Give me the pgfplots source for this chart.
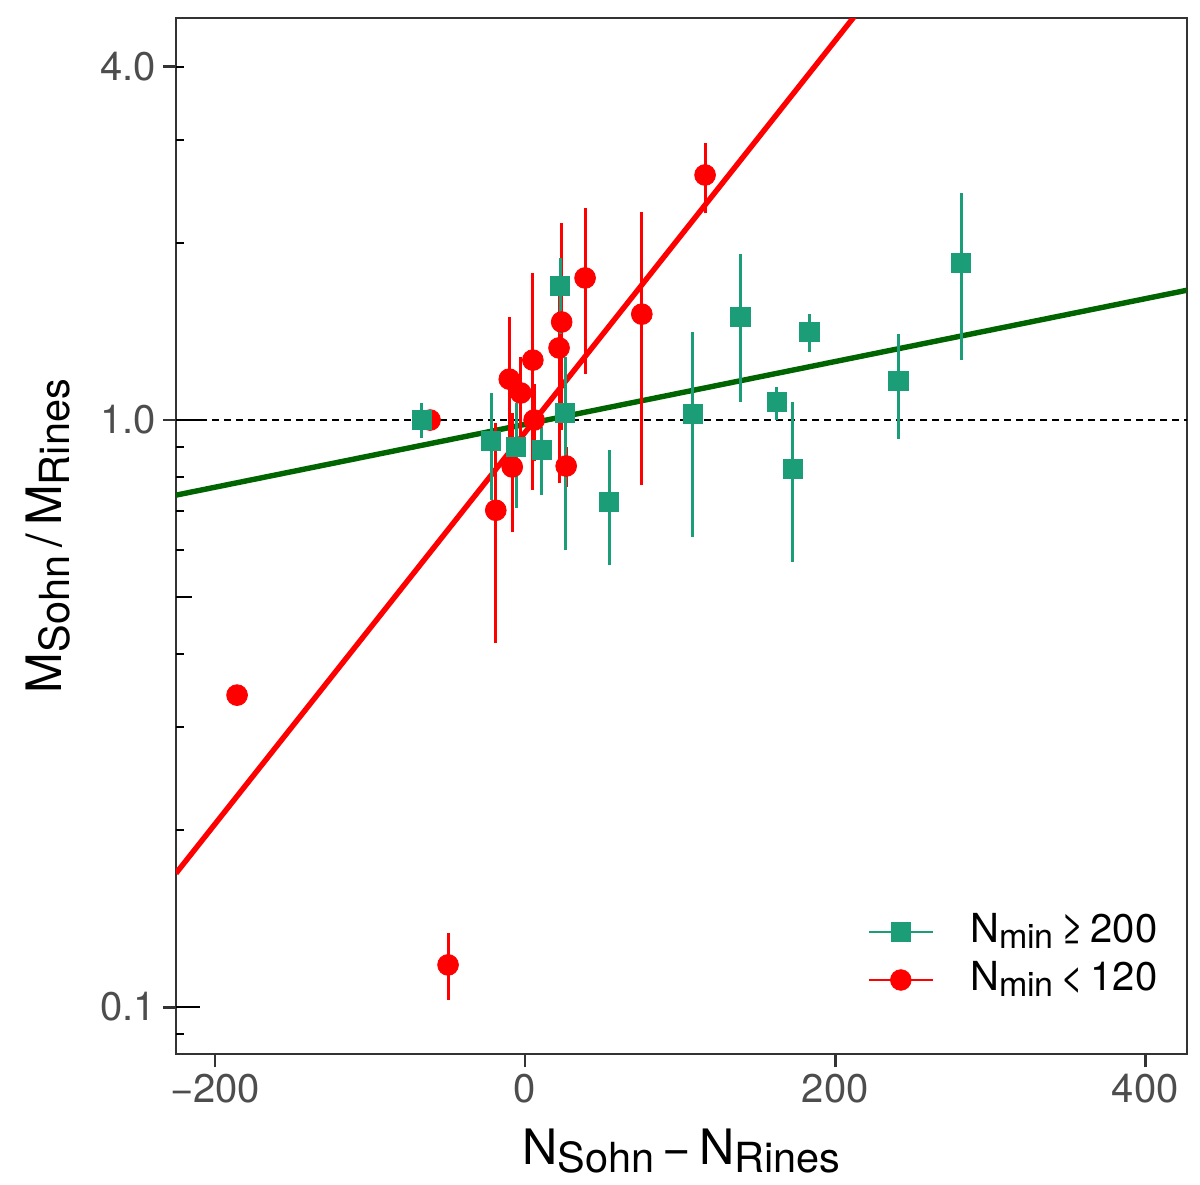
\documentclass[border=0pt]{standalone}
\usepackage{fontspec}
\setmainfont{TeX Gyre Heros}
\usepackage{graphicx}
\usepackage{pgfplots}
\pgfplotsset{compat=1.18}

\definecolor{dgreen}{HTML}{1B9E77}
\definecolor{fitgreen}{HTML}{006400}
\definecolor{axgray}{HTML}{333333}
\definecolor{labgray}{HTML}{4D4D4D}
\newcommand\sub[1]{\raisebox{-0.16em}{\scalebox{0.85}{#1}}}

\begin{document}
\begin{tikzpicture}
\begin{axis}[
  scale only axis, width=505.5pt, height=518pt,
  xmin=-225.2, xmax=427,
  ymode=log, ymin=0.0832, ymax=4.84,
  xtick={-200,0,200,400}, xticklabels={−200,0,200,400},
  ytick={0.1,1,4}, yticklabels={0.1,1.0,4.0},
  yminorticks=false, xminorticks=false,
  xtick pos=lower, ytick pos=left,
  tick align=outside, major tick length=6.5pt,
  tick style={axgray, line width=1.4pt},
  axis line style={axgray, line width=1pt},
  tick label style={labgray, font=\fontsize{20}{24}\selectfont},
  xlabel={N\sub{Sohn}\,−\,N\sub{Rines}},
  ylabel={M\sub{Sohn}\,/\,M\sub{Rines}},
  xlabel style={font=\fontsize{24.4}{29}\selectfont, at={(axis description cs:0.5,-0.107)}, anchor=base},
  ylabel style={font=\fontsize{24.4}{29}\selectfont, at={(axis description cs:-0.1128,0.5)}, anchor=base},
  legend image code/.code={
    \draw[mark repeat=2, mark phase=2, #1] plot coordinates {(0pt,0pt) (16pt,0pt) (32pt,0pt)};},
  legend style={draw=none, fill=none, at={(axis description cs:0.6835,0.0946)}, anchor=west,
    inner sep=0pt, row sep=6pt, font=\fontsize{20}{24}\selectfont,
    nodes={inner sep=0pt, text height=14pt, text depth=4pt},
    /tikz/every odd column/.append style={column sep=18pt}},
  legend cell align=left,
]
\addlegendimage{dgreen, line width=1.4pt, mark=square*, mark size=4.8pt, mark options={line width=0.3pt}}
\addlegendentry{N\sub{min}\,≥\,200}
\addlegendimage{red, line width=1.4pt, mark=*, mark size=5.2pt, mark options={line width=0.3pt}}
\addlegendentry{N\sub{min}\,<\,120}

% reference line at unity
\addplot[black, line width=0.6pt, dash pattern=on 3.5pt off 2.5pt, forget plot]
  coordinates {(-225.2,1) (427,1)};

% fitted relations
\addplot[fitgreen, line width=2.7pt, forget plot] coordinates {(-225.2,0.745) (427,1.664)};
\addplot[red, line width=2.7pt, forget plot] coordinates {(-225.2,0.169) (250,6.50)};

% error bars, N_min < 120
\addplot[red, line width=1.5pt, unbounded coords=jump, forget plot] coordinates {
  (-49.7,0.1028) (-49.7,0.1336) (nan,nan)
  (-18.9,0.417) (-18.9,0.988) (nan,nan)
  (-8.3,0.644) (-8.3,1.028) (nan,nan)
  (-10.2,0.80) (-10.2,1.50) (nan,nan)
  (-2.8,0.90) (-2.8,1.28) (nan,nan)
  (5.0,0.760) (5.0,1.78) (nan,nan)
  (5.8,0.85) (5.8,1.15) (nan,nan)
  (21.9,0.78) (21.9,1.75) (nan,nan)
  (23.6,0.961) (23.6,2.167) (nan,nan)
  (26.5,0.77) (26.5,0.90) (nan,nan)
  (38.7,1.20) (38.7,2.30) (nan,nan)
  (75.3,0.775) (75.3,2.26) (nan,nan)
  (116.1,2.25) (116.1,2.97)
};

% error bars, N_min >= 200
\addplot[dgreen, line width=1.5pt, unbounded coords=jump, forget plot] coordinates {
  (-66.6,0.932) (-66.6,1.069) (nan,nan)
  (-21.9,0.731) (-21.9,1.112) (nan,nan)
  (-5.8,0.708) (-5.8,1.07) (nan,nan)
  (10.8,0.745) (10.8,0.973) (nan,nan)
  (25.8,0.600) (25.8,1.28) (nan,nan)
  (22.6,1.40) (22.6,1.89) (nan,nan)
  (54.2,0.566) (54.2,0.889) (nan,nan)
  (108.0,0.632) (108.0,1.41) (nan,nan)
  (138.9,1.073) (138.9,1.918) (nan,nan)
  (162.3,1.0) (162.3,1.138) (nan,nan)
  (172.6,0.573) (172.6,1.073) (nan,nan)
  (183.4,1.306) (183.4,1.516) (nan,nan)
  (240.8,0.928) (240.8,1.401) (nan,nan)
  (281.3,1.265) (281.3,2.436)
};

% points, N_min < 120
\addplot[only marks, mark=*, red, mark size=5.2pt, forget plot] coordinates {
  (-185.8,0.340) (-61.3,1.0) (-49.7,0.118) (-18.9,0.702) (-8.3,0.832)
  (-10.2,1.174) (-2.8,1.112) (5.0,1.265) (5.8,1.0) (21.9,1.327)
  (23.6,1.469) (26.5,0.835) (38.7,1.746) (75.3,1.515) (116.1,2.615)
};

% points, N_min >= 200
\addplot[only marks, mark=square*, dgreen, mark size=4.8pt, forget plot] coordinates {
  (-66.6,1.0) (-21.9,0.921) (-5.8,0.900) (10.8,0.889) (25.8,1.028)
  (22.6,1.69) (54.2,0.725) (108.0,1.024) (138.9,1.498) (162.3,1.073)
  (172.6,0.825) (183.4,1.412) (240.8,1.165) (281.3,1.852)
};

% inner logarithmic ticks
\pgfplotsinvokeforeach{0.09,0.2,0.3,0.4,0.6,0.7,0.8,0.9,2,3,4}{
  \draw[black, line width=1pt] (axis cs:-225.2,#1) -- ++(4pt,0pt);}
\draw[black, line width=1pt] (axis cs:-225.2,0.5) -- ++(8pt,0pt);
\draw[black, line width=1pt] (axis cs:-225.2,0.1) -- ++(12pt,0pt);
\draw[black, line width=1pt] (axis cs:-225.2,1) -- ++(12pt,0pt);

\coordinate (sw) at (rel axis cs:0,0);
\coordinate (ne) at (rel axis cs:1,1);
\end{axis}
\path ([shift={(-88pt,-65pt)}]sw) rectangle ([shift={(6.5pt,9pt)}]ne);
\end{tikzpicture}
\end{document}
